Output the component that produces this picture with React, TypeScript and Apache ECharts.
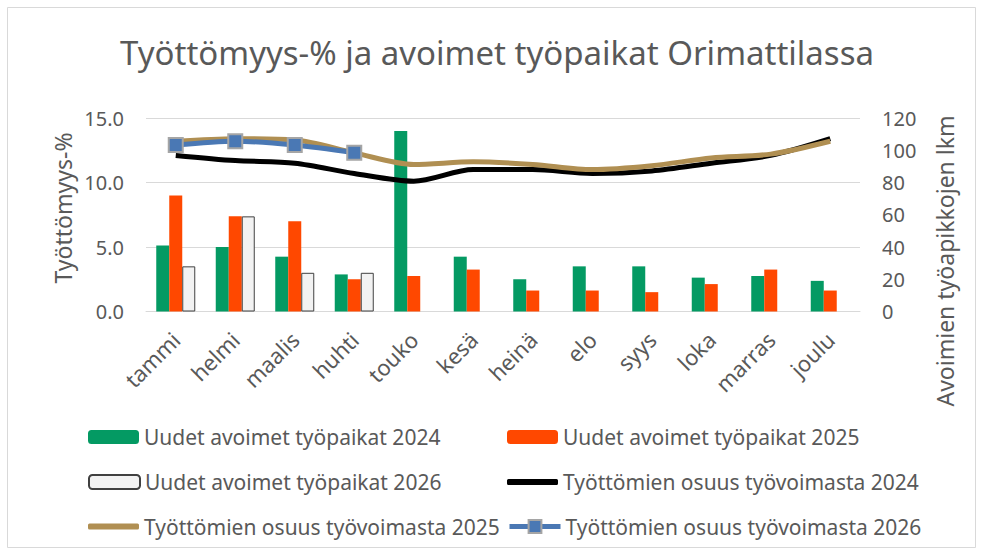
import React, { useEffect, useRef } from "react";
import * as echarts from "echarts";

const months = ["tammi", "helmi", "maalis", "huhti", "touko", "kesä", "heinä", "elo", "syys", "loka", "marras", "joulu"];
const new2024 = [41, 40, 34, 23, 112, 34, 20, 28, 28, 21, 22, 19];
const new2025 = [72, 59, 56, 20, 22, 26, 13, 13, 12, 17, 26, 13];
const new2026 = [28, 59, 24, 24, null, null, null, null, null, null, null, null];
const rate2024 = [12.1, 11.7, 11.5, 10.7, 10.1, 11.0, 11.0, 10.7, 10.9, 11.5, 12.1, 13.4];
const rate2025 = [13.2, 13.4, 13.3, 12.3, 11.4, 11.6, 11.4, 11.0, 11.3, 11.9, 12.2, 13.2];
const rate2026 = [12.9, 13.2, 12.9, 12.3, null, null, null, null, null, null, null, null];

const names = [
  "Uudet avoimet työpaikat 2024",
  "Uudet avoimet työpaikat 2025",
  "Uudet avoimet työpaikat 2026",
  "Työttömien osuus työvoimasta 2024",
  "Työttömien osuus työvoimasta 2025",
  "Työttömien osuus työvoimasta 2026",
];

const FONT = "Noto Sans";
const TXT = "#595959";

export default function App() {
  const ref = useRef<HTMLDivElement>(null);
  useEffect(() => {
    const chart = echarts.init(ref.current!, null, { renderer: "svg" });
    const rowC = [437, 482, 526.5];
    const legendPos = [
      [88, rowC[0]],
      [507, rowC[0]],
      [88, rowC[1]],
      [507, rowC[1]],
      [88, rowC[2]],
      [507, rowC[2]],
    ];
    const legends = names.map((n, i) => {
      const isLine = i >= 3;
      const plainLine = i === 3 || i === 4;
      return {
        data: [plainLine ? { name: n, icon: "roundRect" } : n],
        left: legendPos[i][0],
        top: legendPos[i][1] - 11,
        itemWidth: 51,
        itemHeight: plainLine ? 6 : isLine ? 16 : 14,
        padding: 0,
        selectedMode: false,
        lineStyle: i === 5 ? { width: 5 } : undefined,
        textStyle: { fontFamily: FONT, fontSize: 21, color: TXT, lineHeight: 22 },
      };
    });
    chart.setOption({
      animation: false,
      textStyle: { fontFamily: FONT },
      legend: legends,
      grid: { left: 146, right: 122, top: 118, bottom: 243.5 },
      graphic: [
        {
          type: "rect",
          shape: { x: 7.5, y: 7.5, width: 968, height: 540 },
          style: { fill: "none", stroke: "#d9d9d9", lineWidth: 1 },
          silent: true,
        },
        {
          type: "text",
          x: 497,
          y: 52,
          style: {
            text: "Työttömyys-% ja avoimet työpaikat Orimattilassa",
            fontFamily: FONT,
            fontSize: 33,
            fill: TXT,
            align: "center",
            verticalAlign: "middle",
          },
        },
        {
          type: "text",
          x: 63,
          y: 208,
          rotation: Math.PI / 2,
          style: { text: "Työttömyys-%", fontFamily: FONT, fontSize: 23, fill: TXT, align: "center", verticalAlign: "middle" },
        },
        {
          type: "text",
          x: 945,
          y: 261,
          rotation: Math.PI / 2,
          style: { text: "Avoimien työapikkojen lkm", fontFamily: FONT, fontSize: 23, fill: TXT, align: "center", verticalAlign: "middle" },
        },
      ],
      xAxis: {
        type: "category",
        data: months,
        axisTick: { show: false },
        axisLine: { lineStyle: { color: "#d9d9d9", width: 1 } },
        axisLabel: { rotate: 45, fontSize: 22, color: TXT, margin: 24, interval: 0 },
      },
      yAxis: [
        {
          type: "value",
          min: 0,
          max: 15,
          interval: 5,
          axisLine: { show: false },
          axisTick: { show: false },
          splitLine: { lineStyle: { color: "#d9d9d9", width: 1 } },
          axisLabel: { fontSize: 20, color: TXT, margin: 22, formatter: (v: number) => v.toFixed(1) },
        },
        {
          type: "value",
          min: 0,
          max: 120,
          interval: 20,
          axisLine: { show: false },
          axisTick: { show: false },
          splitLine: { show: false },
          axisLabel: { fontSize: 20, color: TXT, margin: 22 },
        },
      ],
      series: [
        {
          name: names[0],
          type: "bar",
          yAxisIndex: 1,
          data: new2024,
          barWidth: 13,
          barGap: "0%",
          itemStyle: { color: "#049a63" },
        },
        {
          name: names[1],
          type: "bar",
          yAxisIndex: 1,
          data: new2025,
          barWidth: 13,
          barGap: "0%",
          itemStyle: { color: "#ff4800" },
        },
        {
          name: names[2],
          type: "bar",
          yAxisIndex: 1,
          data: new2026,
          barWidth: 13,
          barGap: "0%",
          itemStyle: { color: "#f2f2f2", borderColor: "#404040", borderWidth: 1 },
        },
        {
          name: names[3],
          type: "line",
          yAxisIndex: 0,
          data: rate2024,
          smooth: 0.3,
          symbol: "none",
          lineStyle: { color: "#000000", width: 5 },
          itemStyle: { color: "#000000" },
        },
        {
          name: names[4],
          type: "line",
          yAxisIndex: 0,
          data: rate2025,
          smooth: 0.3,
          symbol: "none",
          lineStyle: { color: "#b08f52", width: 5 },
          itemStyle: { color: "#b08f52" },
        },
        {
          name: names[5],
          type: "line",
          yAxisIndex: 0,
          data: rate2026,
          smooth: 0.3,
          symbol: "rect",
          symbolSize: 14,
          showSymbol: true,
          lineStyle: { color: "#4a78b4", width: 5 },
          itemStyle: { color: "#4a78b4", borderColor: "#a5a5a5", borderWidth: 2 },
        },
      ],
    });
    return () => chart.dispose();
  }, []);
  return (
    <div
      ref={ref}
      style={{ position: "absolute", left: 0, top: 0, width: 982, height: 555, background: "#ffffff" }}
    />
  );
}
